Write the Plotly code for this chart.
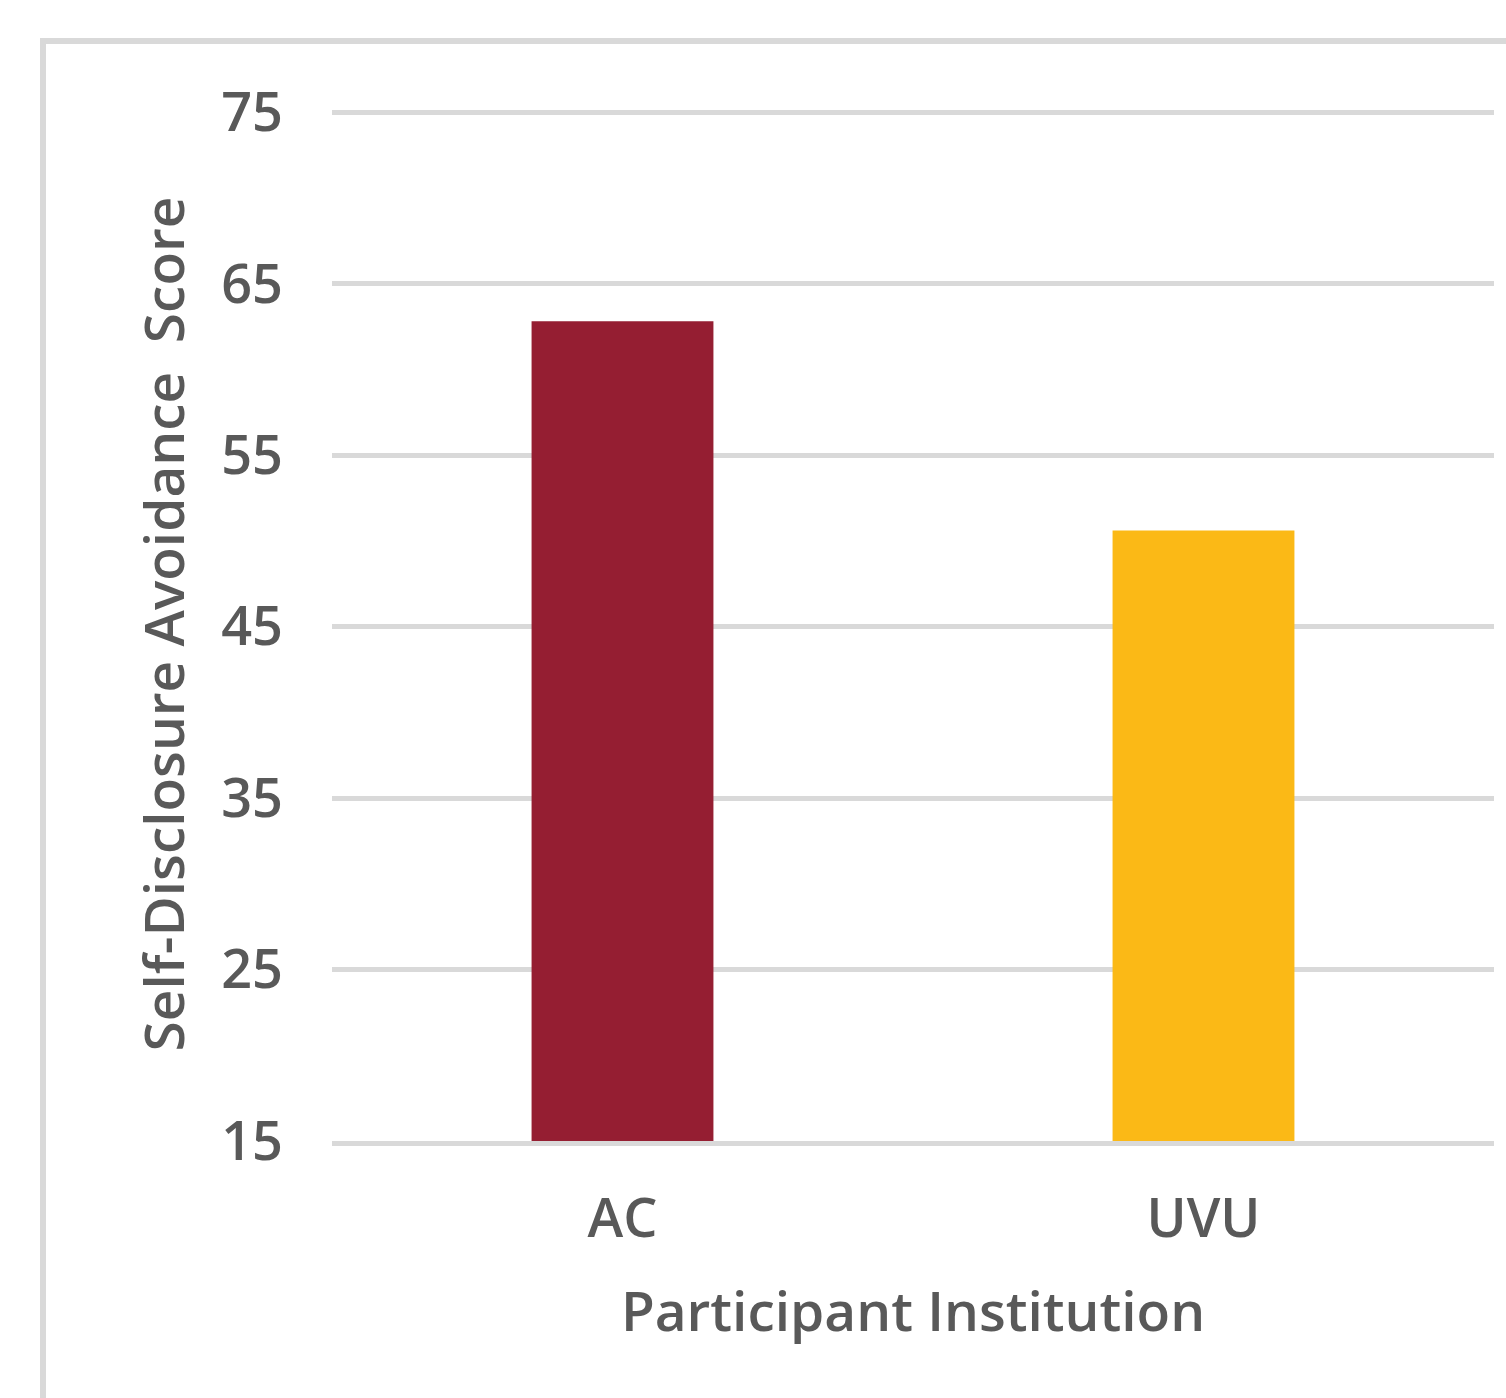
import plotly.graph_objects as go

categories = ["AC", "UVU"]
scores = [62.8, 50.6]
bar_colors = ["#951E32", "#FBB916"]
y_ticks = [15, 25, 35, 45, 55, 65, 75]
y_base = 15
y_top = 75.3

W, H = 1506, 1398
L, R, T, B = 332, 12, 107, 257
pw, ph = W - L - R, H - T - B

def px_x(x):
    return (x - L) / pw

def px_y(y):
    return (H - B - y) / ph

font_family = "Open Sans, sans-serif"
text_color = "#595959"
grid_color = "#D9D9D9"

fig = go.Figure(
    go.Bar(
        x=categories,
        y=[s - y_base for s in scores],
        base=y_base,
        marker=dict(color=bar_colors, line=dict(width=0)),
        width=0.313,
        customdata=scores,
        hovertemplate="%{x}: %{customdata}<extra></extra>",
    )
)

fig.update_layout(
    width=W,
    height=H,
    margin=dict(l=L, r=R, t=T, b=B, pad=0),
    paper_bgcolor="white",
    plot_bgcolor="white",
    showlegend=False,
    font=dict(family=font_family, color=text_color, size=54),
    xaxis=dict(
        showgrid=False,
        showline=True,
        linecolor=grid_color,
        linewidth=5,
        ticks="",
        ticklabelstandoff=26,
        tickfont=dict(size=54, weight=600),
        title=dict(text="Participant Institution", font=dict(size=55, weight=600), standoff=42),
    ),
    yaxis=dict(
        range=[y_base, y_top],
        tickvals=y_ticks,
        showgrid=True,
        gridcolor=grid_color,
        gridwidth=5,
        zeroline=False,
        ticks="",
        ticklabelstandoff=48,
        tickfont=dict(size=54, weight=600),
        title=dict(text="Self-Disclosure Avoidance  Score", font=dict(size=55, weight=600), standoff=18),
    ),
    shapes=[
        dict(
            type="rect", xref="paper", yref="paper",
            x0=px_x(43), x1=px_x(W + 20), y0=px_y(H + 20), y1=px_y(41),
            line=dict(color=grid_color, width=6), fillcolor="rgba(0,0,0,0)", layer="below",
        )
    ],
)

fig.write_html("out.html")
